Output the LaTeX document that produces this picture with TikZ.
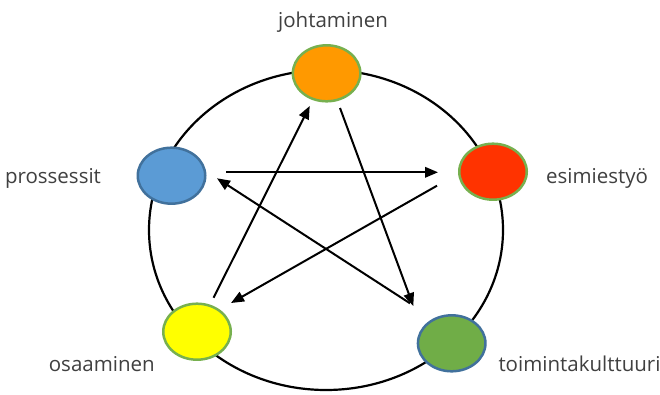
\documentclass[tikz,border=0pt]{standalone}
\usepackage{fontspec}
\setmainfont{Open Sans}
\usetikzlibrary{arrows.meta,calc,shapes.geometric}
\definecolor{txt}{HTML}{404040}
\definecolor{cOrange}{HTML}{FF9900}
\definecolor{cBlue}{HTML}{5B9BD5}
\definecolor{cRed}{HTML}{FF3300}
\definecolor{cYellow}{HTML}{FFFF00}
\definecolor{cGreen}{HTML}{70AD47}
\definecolor{bGreen}{HTML}{77B04F}
\definecolor{bBlue}{HTML}{41719C}
\begin{document}
\begin{tikzpicture}[x=1pt,y=1pt,
  dot/.style={ellipse,minimum width=67.5pt,minimum height=56pt,inner sep=0pt,line width=2.5pt},
  lbl/.style={text=txt,font=\fontsize{20.5}{24}\selectfont,inner sep=0pt,anchor=base},
  arr/.style={line width=2pt,-{Triangle[length=13pt,width=10.5pt]}}]
\useasboundingbox (0,0) rectangle (660,394);
\fill[white] (0,0) rectangle (660,394);
\draw[line width=2.2pt] (326,164) ellipse [x radius=177, y radius=160];
\node[dot,fill=cOrange,draw=bGreen] (j) at (326.6,320.7) {};
\node[dot,fill=cBlue,draw=bBlue] (p) at (171.5,218.3) {};
\node[dot,fill=cRed,draw=bGreen] (e) at (493,222.3) {};
\node[dot,fill=cYellow,draw=bGreen] (y) at (197,62.3) {};
\node[dot,fill=cGreen,draw=bBlue] (g) at (451.7,50.7) {};
\node[lbl] (lj) at (333,366) {johtaminen};
\node[lbl] (lp) at (53,211) {prossessit};
\node[lbl] (le) at (597,211) {esimiestyö};
\node[lbl] (ly) at (101.8,23) {osaaminen};
\node[lbl,anchor=base west] (lg) at (498.3,23) {toimintakulttuuri};
\draw[arr] ($(p)+(54.5,3.4)$) -- ($(e)+(-55,-0.6)$);
\draw[arr] ($(e)+(-56,-14)$) -- ($(y)+(34,28.7)$);
\draw[arr] ($(y)+(16.6,34)$) -- ($(j)+(-16.9,-32.7)$);
\draw[arr] ($(j)+(13.4,-34.7)$) -- ($(g)+(-38.4,37.3)$);
\draw[arr] ($(g)+(-41.7,40)$) -- ($(p)+(45.5,-2.6)$);
\end{tikzpicture}
\end{document}
